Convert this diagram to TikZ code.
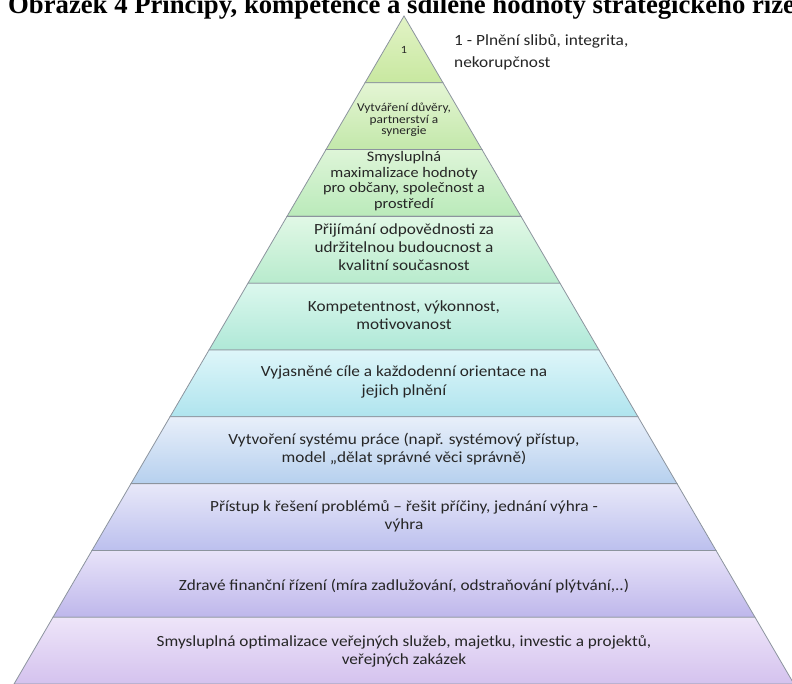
\documentclass[tikz,border=0pt]{standalone}
\usepackage{fontspec}
\setmainfont{Carlito}[FakeStretch=1.11]
\newfontfamily\titlefont{Liberation Serif}

% band colours: top and bottom of each level's gradient
\definecolor{bAt}{RGB}{226,243,198}\definecolor{bAb}{RGB}{200,232,160}
\definecolor{bBt}{RGB}{228,245,212}\definecolor{bBb}{RGB}{195,232,170}
\definecolor{bCt}{RGB}{222,245,216}\definecolor{bCb}{RGB}{186,234,186}
\definecolor{bDt}{RGB}{225,248,230}\definecolor{bDb}{RGB}{184,235,205}
\definecolor{bEt}{RGB}{220,248,238}\definecolor{bEb}{RGB}{175,232,215}
\definecolor{bFt}{RGB}{222,246,249}\definecolor{bFb}{RGB}{175,228,238}
\definecolor{bGt}{RGB}{232,239,250}\definecolor{bGb}{RGB}{182,208,238}
\definecolor{bHt}{RGB}{232,232,249}\definecolor{bHb}{RGB}{188,192,238}
\definecolor{bIt}{RGB}{232,227,249}\definecolor{bIb}{RGB}{190,183,235}
\definecolor{bJt}{RGB}{238,229,249}\definecolor{bJb}{RGB}{212,194,238}
\definecolor{edge}{RGB}{140,148,158}
\definecolor{txt}{RGB}{38,38,38}

\begin{document}
\begin{tikzpicture}[x=1pt,y=-1pt,
  band/.style={draw=edge,line width=0.8pt},
  lbl/.style={align=center,text=txt,inner sep=0pt,font=\fontsize{15.5}{18.2}\selectfont},
  small/.style={lbl,font=\fontsize{12}{11.6}\selectfont},
  mid/.style={lbl,font=\fontsize{14.6}{15.5}\selectfont}]
\useasboundingbox (0,0) rectangle (792,684);
\clip (0,0) rectangle (792,684);
\fill[white] (0,0) rectangle (792,684);

% pyramid geometry: apex, half-width growth per unit of height, band height
\def\ax{404}\def\ay{16}\def\sl{0.5838}\def\bh{66.8}

\foreach \k/\ct/\cb in {0/bAt/bAb,1/bBt/bBb,2/bCt/bCb,3/bDt/bDb,4/bEt/bEb,
                        5/bFt/bFb,6/bGt/bGb,7/bHt/bHb,8/bIt/bIb,9/bJt/bJb}{
  \pgfmathsetmacro\ya{\ay+\k*\bh}
  \pgfmathsetmacro\yb{\ya+\bh}
  \pgfmathsetmacro\wa{(\ya-\ay)*\sl}
  \pgfmathsetmacro\wb{(\yb-\ay)*\sl}
  \shade[band,top color=\ct,bottom color=\cb]
    (\ax-\wa,\ya) -- (\ax+\wa,\ya) -- (\ax+\wb,\yb) -- (\ax-\wb,\yb) -- cycle;
}

% title line
\node[anchor=base west,inner sep=0pt,
      font=\titlefont\bfseries\fontsize{26.7}{30}\selectfont] (title) at (8,14)
  {Obrázek 4 Principy, kompetence a sdílené hodnoty strategického řízení};

% level labels
\node[lbl,font=\fontsize{11}{12}\selectfont] (l1) at (404,50) {1};
\node[anchor=north west,align=left,text=txt,inner sep=0pt,
      font=\fontsize{15.6}{22}\selectfont] (side) at (454,34)
  {1 - Plnění slibů, integrita,\\nekorupčnost};
\node[small] (l2) at (404,120) {Vytváření důvěry,\\partnerství a\\synergie};
\node[mid] (l3) at (404,181) {Smysluplná\\maximalizace hodnoty\\pro občany, společnost a\\prostředí};
\node[lbl] (l4) at (404,247) {Přijímání odpovědnosti za\\udržitelnou budoucnost a\\kvalitní současnost};
\node[lbl] (l5) at (404,315) {Kompetentnost, výkonnost,\\motivovanost};
\node[lbl] (l6) at (404,382) {Vyjasněné cíle a každodenní orientace na\\jejich plnění};
\node[lbl] (l7) at (404,449) {Vytvoření systému práce (např. systémový přístup,\\model „dělat správné věci správně)};
\node[lbl] (l8) at (404,516) {Přístup k řešení problémů – řešit příčiny, jednání výhra -\\výhra};
\node[lbl] (l9) at (404,586) {Zdravé finanční řízení (míra zadlužování, odstraňování plýtvání,..)};
\node[lbl] (l10) at (404,651) {Smysluplná optimalizace veřejných služeb, majetku, investic a projektů,\\veřejných zakázek};
\end{tikzpicture}
\end{document}
